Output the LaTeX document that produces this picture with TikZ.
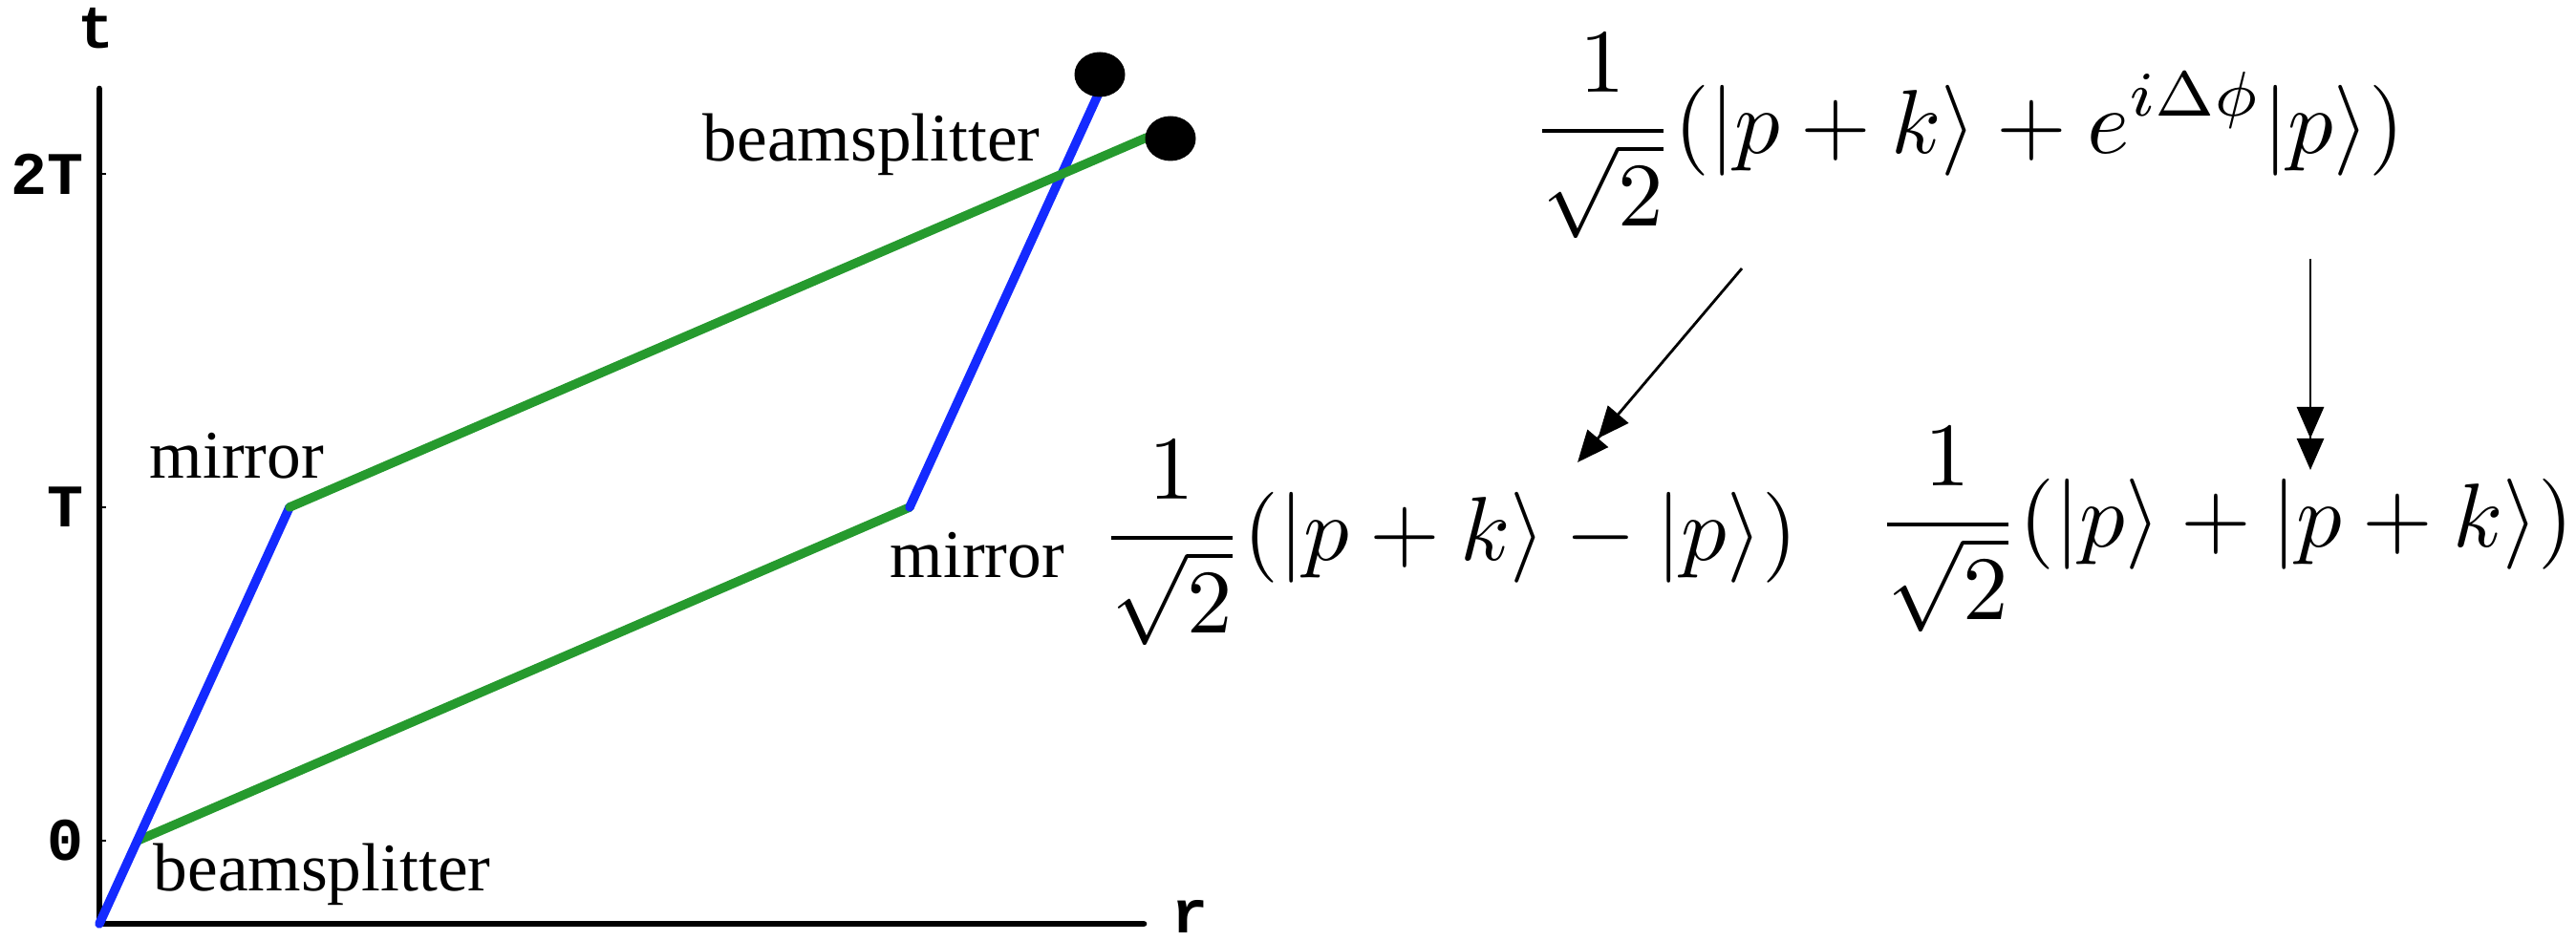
\documentclass[tikz,border=0pt]{standalone}
\usepackage{fontspec}
\usepackage{amsmath,amssymb}
\usepackage{tikz}
\usetikzlibrary{arrows.meta}
\usetikzlibrary{shapes.geometric}
\newfontfamily\labelfont{Liberation Serif}
\newfontfamily\tickfont{Liberation Mono}
\definecolor{beamblue}{RGB}{20,42,255}
\definecolor{beamgreen}{RGB}{38,154,46}
\tikzset{
  axisline/.style={line width=1.9pt,line cap=round},
  tickmark/.style={line width=0.4pt},
  ticklab/.style={font=\tickfont\bfseries\fontsize{18}{20}\selectfont,inner sep=0pt},
  armblue/.style={line width=2.7pt,line cap=round,beamblue},
  armgreen/.style={line width=2.7pt,line cap=round,beamgreen},
  partlab/.style={font=\labelfont\fontsize{20.3}{24}\selectfont,inner sep=0pt,anchor=base west},
  statelab/.style={font=\fontsize{10}{12}\selectfont,scale=2.7,inner sep=0pt,anchor=base west},
  detector/.style={ellipse,fill=black,minimum width=0.53cm,minimum height=0.47cm,inner sep=0pt},
  evolve/.style={line width=0.8pt,
    -{Triangle[length=3.3mm,width=2.8mm,sep=0pt]Triangle[length=3.3mm,width=2.8mm,sep=0pt]}}
}

\begin{document}
\begin{tikzpicture}
  \useasboundingbox (0,0) rectangle (26.96,9.85);
  % axes
  \coordinate (orig) at (1.04,0.18);
  \draw[axisline] (1.04,8.92) -- (orig) -- (11.97,0.18);
  \node[ticklab] (tname) at (1.00,9.55) {t};
  \node[ticklab,anchor=base] (rname) at (12.45,0.08) {r};
  \foreach \y/\lab [count=\i] in {1.05/0,4.54/T,8.03/2T}{
    \draw[tickmark] (1.04,\y) -- ++(0.07,0);
    \node[ticklab,anchor=east] (tick\i) at (0.88,\y) {\lab};
  }
  % interferometer arms
  \coordinate (bsplit) at (1.44,1.05);
  \coordinate (mleft) at (3.03,4.54);
  \coordinate (mright) at (9.52,4.54);
  \coordinate (blueend) at (11.51,8.90);
  \coordinate (greenend) at (12.00,8.41);
  \draw[armgreen] (bsplit) -- (mright);
  \draw[armblue] (orig) -- (mleft);
  \draw[armblue] (mright) -- (blueend);
  \draw[armgreen] (mleft) -- (greenend);
  \node[detector] (outblue) at (11.51,9.07) {};
  \node[detector] (outgreen) at (12.25,8.40) {};
  % labels
  \node[partlab] (bsbot) at (1.60,0.52) {beamsplitter};
  \node[partlab] (bstop) at (7.35,8.16) {beamsplitter};
  \node[partlab] (mirl) at (1.56,4.84) {mirror};
  \node[partlab] (mirr) at (9.31,3.80) {mirror};
  % output states
  \node[statelab] (stin) at (16.01,8.24)
    {$\displaystyle\frac{1}{\sqrt{2}}(|p+k\rangle+e^{i\Delta\phi}|p\rangle)$};
  \node[statelab] (stminus) at (11.50,3.98)
    {$\displaystyle\frac{1}{\sqrt{2}}(|p+k\rangle-|p\rangle)$};
  \node[statelab] (stplus) at (19.62,4.12)
    {$\displaystyle\frac{1}{\sqrt{2}}(|p\rangle+|p+k\rangle)$};
  \coordinate (fromA) at (18.23,7.04);
  \coordinate (toA) at (16.51,5.01);
  \coordinate (fromB) at (24.18,7.14);
  \coordinate (toB) at (24.18,4.93);
  \draw[evolve] (fromA) -- (toA);
  \draw[evolve] (fromB) -- (toB);
\end{tikzpicture}
\end{document}
